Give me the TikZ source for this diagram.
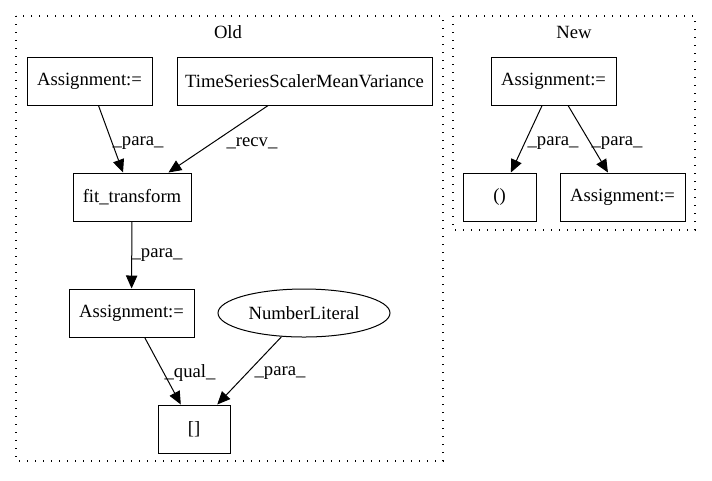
\documentclass[tikz,border=0pt]{standalone}
\usepackage{fontspec}
\setmainfont{Liberation Serif}
\usetikzlibrary{shapes.geometric,arrows.meta}
\begin{document}
\begin{tikzpicture}[x=0.75pt,y=-0.75pt,
  every node/.style={font=\fontsize{14}{16}\selectfont},
  box/.style={draw,line width=0.75pt,rectangle,minimum height=36pt,inner sep=0pt},
  oval/.style={draw,line width=0.75pt,ellipse,minimum height=36pt,minimum width=129pt,inner sep=0pt},
  cluster/.style={draw,line width=1pt,dash pattern=on 1pt off 5pt},
  edge/.style={draw,line width=0.75pt,-{Triangle[length=9.75pt,width=8.5pt]}},
  lab/.style={inner sep=0pt}]
\useasboundingbox (0,0) rectangle (712,480);
% clusters
\draw[cluster] (16,16) rectangle (443,461);
\node[lab] (oldlab) at (228,32) {Old};
\draw[cluster] (453,16) rectangle (695,230);
\node[lab] (newlab) at (574,32) {New};
% Old nodes
\node[box,minimum width=93.75pt] (a1) at (89.5,81) {Assignment:=};
\node[box,minimum width=191.25pt] (ts) at (304.5,81) {TimeSeriesScalerMeanVariance};
\node[box,minimum width=88.5pt] (ft) at (132,197) {fit\_transform};
\node[box,minimum width=93.75pt] (a2) at (131.5,313) {Assignment:=};
\node[oval] (nl) at (304,313) {NumberLiteral};
\node[box,minimum width=54pt] (br) at (194,429) {[]};
% New nodes
\node[box,minimum width=93.75pt] (n1) at (553.5,81) {Assignment:=};
\node[box,minimum width=54.75pt] (pr) at (499.5,197) {()};
\node[box,minimum width=93.75pt] (n2) at (622.5,197) {Assignment:=};
% edges
\draw[edge] (a1) -- (ft);
\draw[edge] (ts) -- (ft);
\draw[edge] (ft) -- (a2);
\draw[edge] (a2) -- (br);
\draw[edge] (nl) -- (br);
\draw[edge] (n1) -- (pr);
\draw[edge] (n1) -- (n2);
% labels
\node[lab] (l1) at (138,143) {\_para\_};
\node[lab] (l2) at (252,143) {\_recv\_};
\node[lab] (l3) at (157,255) {\_para\_};
\node[lab] (l4) at (190,373) {\_qual\_};
\node[lab] (l5) at (280,373) {\_para\_};
\node[lab] (l6) at (553,143) {\_para\_};
\node[lab] (l7) at (617,143) {\_para\_};
\end{tikzpicture}
\end{document}
